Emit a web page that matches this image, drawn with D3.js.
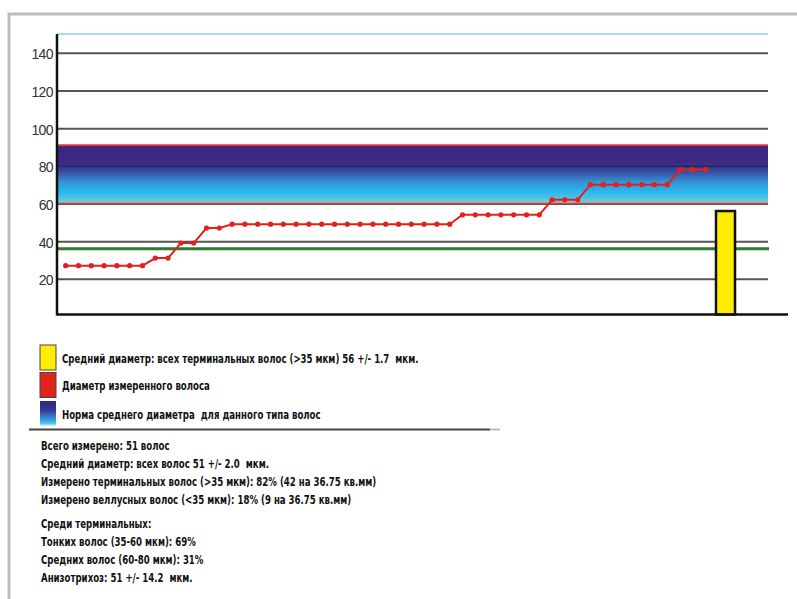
<!DOCTYPE html>
<html>
<head>
<meta charset="utf-8">
<script src="https://cdn.jsdelivr.net/npm/d3@7"></script>
<style>
  body { margin: 0; background: #fff; }
  svg { display: block; }
  .txt { font-family: "DejaVu Sans Condensed", "DejaVu Sans", sans-serif; font-weight: bold; font-size: 12.5px; fill: #111; white-space: pre; }
</style>
</head>
<body>
<svg width="797" height="599"></svg>
<script>
// measured hair diameters, sorted (мкм)
const hairDiameters = [
  27, 27, 27, 27, 27, 27, 27,
  31, 31,
  39, 39,
  47, 47,
  49, 49, 49, 49, 49, 49, 49, 49, 49, 49, 49, 49, 49, 49, 49, 49, 49, 49,
  54, 54, 54, 54, 54, 54, 54,
  62, 62, 62,
  70, 70, 70, 70, 70, 70, 70,
  78, 78, 78
];
const yTicks = [20, 40, 60, 80, 100, 120, 140];
const yMax = 150;
const normRange = [60, 91];
const terminalLimit = 36;
const meanBar = [{ key: 'mean', value: 56 }];

const legendLabels = [
  'Средний диаметр: всех терминальных волос (>35 мкм) 56 +/- 1.7  мкм.',
  'Диаметр измеренного волоса',
  'Норма среднего диаметра  для данного типа волос'
];
const statsLines = [
  'Всего измерено: 51 волос',
  'Средний диаметр: всех волос 51 +/- 2.0  мкм.',
  'Измерено терминальных волос (>35 мкм): 82% (42 на 36.75 кв.мм)',
  'Измерено веллусных волос (<35 мкм): 18% (9 на 36.75 кв.мм)'
];
const terminalLines = [
  'Среди терминальных:',
  'Тонких волос (35-60 мкм): 69%',
  'Средних волос (60-80 мкм): 31%',
  'Анизотрихоз: 51 +/- 14.2  мкм.'
];

const svg = d3.select('svg');

const LEFT = 57;
const RIGHT = 768;
const BASE = 314.5;
const NARROW = 0.765; // squeeze text like the condensed original font

const y = d3.scaleLinear().domain([0, yMax]).range([316.5, 34]);
const x = d3.scaleLinear().domain([0, hairDiameters.length - 1]).range([65.7, 705.7]);
const xBar = d3.scaleBand().domain(meanBar.map(d => d.key)).range([716, 735]);

const defs = svg.append('defs');
const bandGrad = defs.append('linearGradient')
  .attr('id', 'normGrad').attr('x1', 0).attr('y1', 0).attr('x2', 0).attr('y2', 1);
[[0, '#3b2683'], [0.3, '#3c2a84'], [0.45, '#3b4b9e'], [0.63, '#3492d6'], [0.8, '#2bb7ee'], [0.9, '#4cc0e4'], [1, '#8ccbd2']]
  .forEach(s => bandGrad.append('stop').attr('offset', s[0]).attr('stop-color', s[1]));
const swatchGrad = defs.append('linearGradient')
  .attr('id', 'swatchGrad').attr('x1', 0).attr('y1', 0).attr('x2', 0).attr('y2', 1);
[[0, '#2f2a86'], [0.35, '#36358f'], [0.7, '#3a8fd6'], [0.88, '#3fc2ee'], [1, '#d8f2f8']]
  .forEach(s => swatchGrad.append('stop').attr('offset', s[0]).attr('stop-color', s[1]));

// frame
svg.append('path')
  .attr('d', 'M9,599V14H797')
  .attr('fill', 'none')
  .attr('stroke', '#bdbdbd')
  .attr('stroke-width', 3);

// norm band
svg.append('rect')
  .attr('x', LEFT).attr('width', RIGHT - LEFT)
  .attr('y', y(normRange[1])).attr('height', y(normRange[0]) - y(normRange[1]))
  .attr('fill', 'url(#normGrad)');

// grid + labels
const yAxis = svg.append('g')
  .attr('transform', `translate(${LEFT},0)`)
  .call(d3.axisLeft(y).tickValues(yTicks).tickSize(-(RIGHT - LEFT)).tickPadding(4));
yAxis.select('.domain').remove();
yAxis.selectAll('.tick line')
  .attr('stroke', d => d === 80 ? '#262a66' : '#555')
  .attr('stroke-width', 2);
yAxis.selectAll('.tick text')
  .attr('fill', '#333')
  .style('font-family', '"Liberation Sans", Arial, sans-serif')
  .style('font-size', '14px')
  .style('letter-spacing', '-0.6px')
  .attr('dy', '0.42em');

// top cyan line
svg.append('line')
  .attr('x1', LEFT).attr('x2', RIGHT).attr('y1', y(yMax)).attr('y2', y(yMax))
  .attr('stroke', '#a9dde6').attr('stroke-width', 2);

// band edges
svg.selectAll('line.edge')
  .data(normRange)
  .join('line')
  .attr('class', 'edge')
  .attr('x1', LEFT).attr('x2', RIGHT)
  .attr('y1', d => y(d)).attr('y2', d => y(d))
  .attr('stroke', '#e03a3a').attr('stroke-width', 1.6);

// terminal threshold
svg.append('line')
  .attr('x1', LEFT).attr('x2', RIGHT + 1)
  .attr('y1', y(terminalLimit)).attr('y2', y(terminalLimit))
  .attr('stroke', '#2e7a2e').attr('stroke-width', 3);

// mean bar
svg.selectAll('rect.mean')
  .data(meanBar)
  .join('rect')
  .attr('class', 'mean')
  .attr('x', d => xBar(d.key))
  .attr('width', xBar.bandwidth())
  .attr('y', d => y(d.value))
  .attr('height', d => BASE - y(d.value))
  .attr('fill', '#ffec00')
  .attr('stroke', '#111')
  .attr('stroke-width', 2.5);

// axes lines
svg.append('line')
  .attr('x1', LEFT).attr('x2', LEFT).attr('y1', y(yMax)).attr('y2', BASE + 1)
  .attr('stroke', '#111').attr('stroke-width', 2.5);
svg.append('line')
  .attr('x1', LEFT).attr('x2', 788).attr('y1', BASE).attr('y2', BASE)
  .attr('stroke', '#111').attr('stroke-width', 2.5);

// hair diameters
const line = d3.line().x((d, i) => x(i)).y(d => y(d));
svg.append('path')
  .datum(hairDiameters)
  .attr('d', line)
  .attr('fill', 'none')
  .attr('stroke', '#e3201c')
  .attr('stroke-width', 2);
svg.selectAll('circle.pt')
  .data(hairDiameters)
  .join('circle')
  .attr('class', 'pt')
  .attr('cx', (d, i) => x(i))
  .attr('cy', d => y(d))
  .attr('r', 2.6)
  .attr('fill', '#e3201c');

// legend
const swatchFills = ['#ffec00', '#e2231a', 'url(#swatchGrad)'];
const swatchY = [345, 372.5, 401];
const legend = svg.selectAll('g.legend')
  .data(legendLabels)
  .join('g')
  .attr('class', 'legend')
  .attr('transform', (d, i) => `translate(40,${swatchY[i]})`);
legend.append('rect')
  .attr('width', 16).attr('height', 25)
  .attr('fill', (d, i) => swatchFills[i])
  .attr('stroke', (d, i) => i < 2 ? '#444' : 'none')
  .attr('stroke-width', 1);
legend.append('text')
  .attr('class', 'txt')
  .attr('transform', `translate(22,16.5) scale(${NARROW},1)`)
  .attr('dy', '0.1em')
  .text(d => d);

svg.append('line')
  .attr('x1', 29).attr('x2', 490).attr('y1', 429.5).attr('y2', 429.5)
  .attr('stroke', '#444').attr('stroke-width', 2);
svg.append('line')
  .attr('x1', 490).attr('x2', 500).attr('y1', 429.5).attr('y2', 429.5)
  .attr('stroke', '#bbb').attr('stroke-width', 2);

svg.selectAll('text.stat')
  .data(statsLines)
  .join('text')
  .attr('class', 'txt stat')
  .attr('transform', (d, i) => `translate(41,${445.7 + i * 17.8}) scale(${NARROW},1)`)
  .attr('dy', '0.36em')
  .text(d => d);

svg.selectAll('text.term')
  .data(terminalLines)
  .join('text')
  .attr('class', 'txt term')
  .attr('transform', (d, i) => `translate(41,${523.3 + i * 18}) scale(${NARROW},1)`)
  .attr('dy', '0.36em')
  .text(d => d);
</script>
</body>
</html>
